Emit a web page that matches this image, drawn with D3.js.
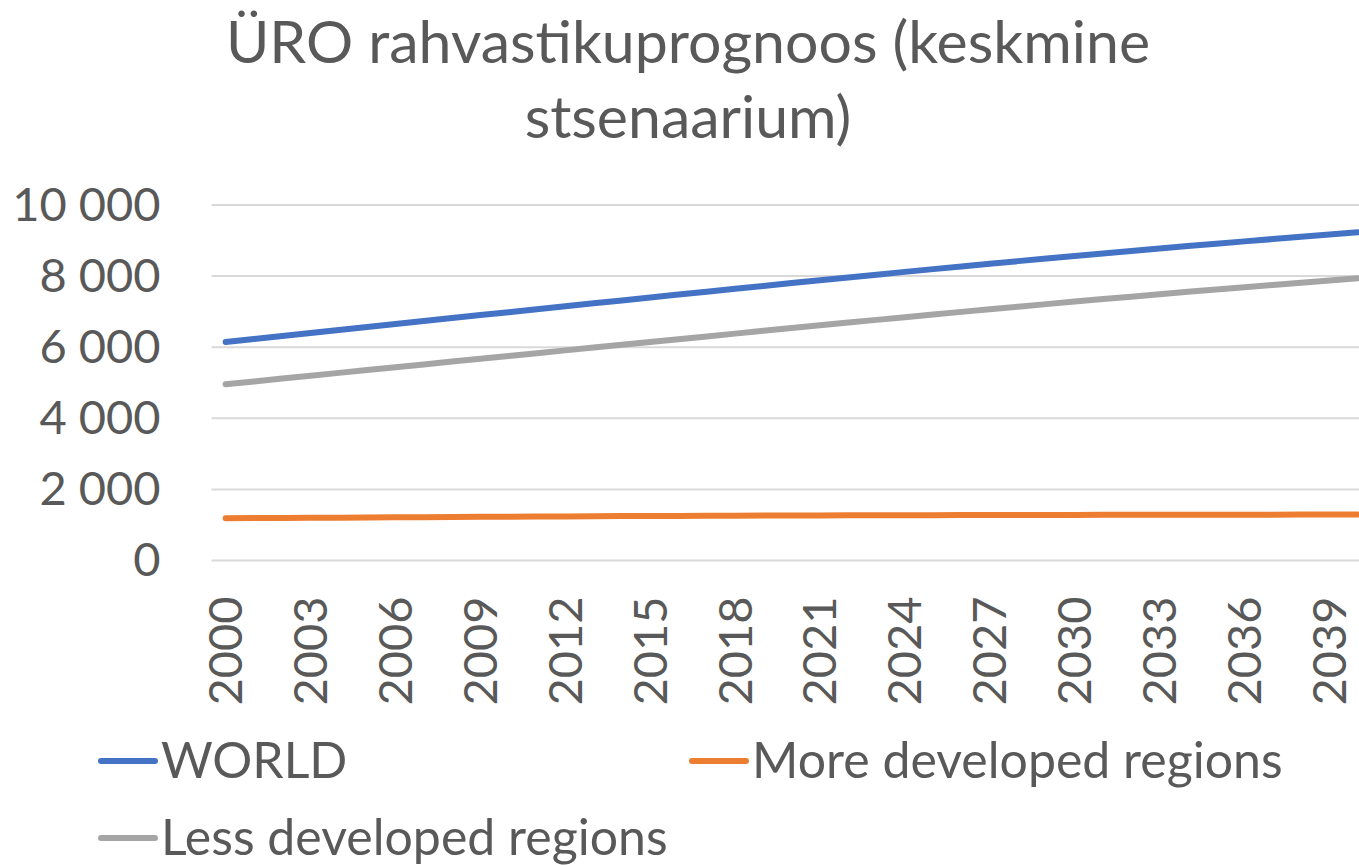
<!DOCTYPE html>
<html>
<head>
<meta charset="utf-8">
<script src="https://cdn.jsdelivr.net/npm/d3@7"></script>
<style>
body { margin: 0; background: #fff; }
text { font-family: Lato, "Noto Sans", sans-serif; fill: #595959; }
</style>
</head>
<body>
<svg width="1359" height="865"></svg>
<script>
var width = 1359;
var height = 865;

var titleLines = ["ÜRO rahvastikuprognoos (keskmine", "stsenaarium)"];

var years = [2000, 2001, 2002, 2003, 2004, 2005, 2006, 2007, 2008, 2009,
	2010, 2011, 2012, 2013, 2014, 2015, 2016, 2017, 2018, 2019,
	2020, 2021, 2022, 2023, 2024, 2025, 2026, 2027, 2028, 2029,
	2030, 2031, 2032, 2033, 2034, 2035, 2036, 2037, 2038, 2039, 2040];

var world = [6146, 6231, 6315, 6399, 6483, 6567, 6651, 6735, 6819, 6903,
	6986, 7069, 7152, 7234, 7316, 7398, 7480, 7562, 7643, 7724,
	7805, 7884, 7963, 8041, 8119, 8196, 8272, 8347, 8421, 8494,
	8566, 8637, 8707, 8776, 8844, 8911, 8977, 9042, 9106, 9169, 9231];

var moreDeveloped = [1189, 1193, 1197, 1201, 1205, 1209, 1214, 1219, 1224, 1229,
	1233, 1237, 1241, 1245, 1249, 1252, 1255, 1258, 1261, 1264,
	1266, 1268, 1270, 1272, 1274, 1276, 1278, 1280, 1281, 1282,
	1283, 1284, 1285, 1286, 1287, 1288, 1289, 1290, 1291, 1292, 1293];

var lessDeveloped = [4957, 5038, 5118, 5198, 5278, 5358, 5437, 5516, 5595, 5674,
	5753, 5832, 5911, 5989, 6067, 6146, 6225, 6304, 6382, 6460,
	6539, 6616, 6693, 6769, 6845, 6920, 6994, 7067, 7140, 7212,
	7283, 7353, 7422, 7490, 7557, 7623, 7688, 7752, 7815, 7877, 7938];

var yTicks = [0, 2000, 4000, 6000, 8000, 10000];
var xTickYears = [2000, 2003, 2006, 2009, 2012, 2015, 2018, 2021, 2024, 2027, 2030, 2033, 2036, 2039];

var seriesNames = ["WORLD", "More developed regions", "Less developed regions"];
var seriesColors = ["#4472C4", "#ED7D31", "#A5A5A5"];

var series = [world, moreDeveloped, lessDeveloped].map(function(vals, i) {
	return {
		name: seriesNames[i],
		color: seriesColors[i],
		values: vals.map(function(v, j) { return {year: years[j], value: v}; })
	};
});

var svg = d3.select("svg");

var plotLeft = 211.5;
var step = 28.3;

var x = d3.scaleBand()
	.domain(years)
	.range([plotLeft, plotLeft + years.length * step]);

var y = d3.scaleLinear()
	.domain([0, 10000])
	.range([560.5, 205]);

var fmt = d3.formatLocale({decimal: ",", thousands: "\u00a0", grouping: [3], currency: ["", ""]}).format(",d");

// title
svg.append("g")
	.selectAll("text")
	.data(titleLines)
	.enter()
	.append("text")
	.attr("x", 688)
	.attr("y", function(d, i) { return 63 + i * 75; })
	.attr("text-anchor", "middle")
	.attr("font-size", 59)
	.text(function(d) { return d; });

// gridlines
svg.append("g")
	.selectAll("line")
	.data(yTicks)
	.enter()
	.append("line")
	.attr("x1", plotLeft)
	.attr("x2", width)
	.attr("y1", function(d) { return y(d); })
	.attr("y2", function(d) { return y(d); })
	.style("stroke", "#D9D9D9")
	.style("stroke-width", 2);

// y axis
var yAxis = svg.append("g")
	.attr("transform", "translate(" + plotLeft + ",0)")
	.call(d3.axisLeft(y).tickValues(yTicks).tickSize(0).tickPadding(51).tickFormat(fmt));
yAxis.select(".domain").remove();
yAxis.selectAll("text")
	.attr("font-size", 47)
	.attr("font-family", "Lato, sans-serif")
	.style("fill", "#595959");

// x axis
var xAxis = svg.append("g")
	.attr("transform", "translate(0," + y(0) + ")")
	.call(d3.axisBottom(x).tickValues(xTickYears).tickSize(0));
xAxis.select(".domain").remove();
xAxis.selectAll("text")
	.attr("transform", "rotate(-90)")
	.attr("text-anchor", "end")
	.attr("x", -36)
	.attr("y", 0)
	.attr("dy", "0.35em")
	.attr("font-size", 47)
	.attr("font-family", "Lato, sans-serif")
	.style("fill", "#595959");

// lines
var line = d3.line()
	.x(function(d) { return x(d.year) + x.bandwidth() / 2; })
	.y(function(d) { return y(d.value); });

svg.append("g")
	.selectAll("path")
	.data(series)
	.enter()
	.append("path")
	.attr("d", function(d) { return line(d.values); })
	.style("fill", "none")
	.style("stroke", function(d) { return d.color; })
	.style("stroke-width", 6)
	.style("stroke-linecap", "round")
	.style("stroke-linejoin", "round");

// legend
var legendPos = [[101, 778], [692, 778], [101, 855]];

var legend = svg.append("g")
	.selectAll("g")
	.data(series)
	.enter()
	.append("g")
	.attr("transform", function(d, i) { return "translate(" + legendPos[i][0] + "," + legendPos[i][1] + ")"; });

legend.append("line")
	.attr("x1", 0)
	.attr("x2", 54)
	.attr("y1", -17)
	.attr("y2", -17)
	.style("stroke", function(d) { return d.color; })
	.style("stroke-width", 6)
	.style("stroke-linecap", "round");

legend.append("text")
	.attr("x", 60)
	.attr("font-size", 50)
	.text(function(d) { return d.name; });
</script>
</body>
</html>
